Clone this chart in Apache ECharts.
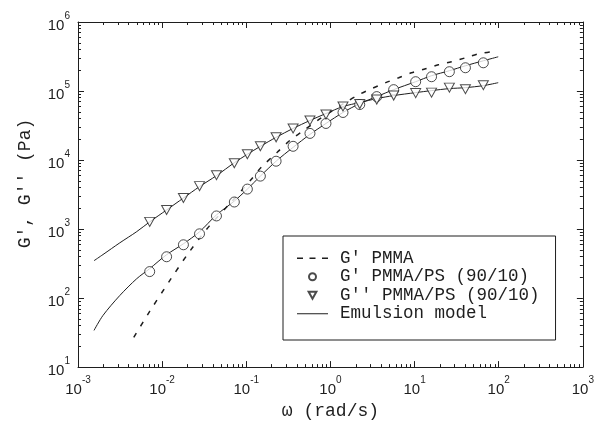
<!DOCTYPE html>
<html><head><meta charset="utf-8">
<script src="https://cdn.jsdelivr.net/npm/echarts@6/dist/echarts.min.js"></script>
<style>html,body{margin:0;padding:0;background:#fff}#c{width:597px;height:425px}</style>
</head><body><div id="c"></div>
<script>
// Measured frequencies (rad/s) for the blend
const omega = [0.00711, 0.0113, 0.0179, 0.0278, 0.0442, 0.0721, 0.103, 0.147, 0.226, 0.360, 0.571, 0.885, 1.41, 2.23, 3.55, 5.64, 10.3, 15.9, 25.9, 40.2, 65.6];
// G' PMMA/PS (90/10), Pa
const gPrimeBlend = [242, 397, 592, 853, 1549, 2466, 3793, 5848, 9616, 15810, 24320, 33880, 48870, 63680, 82990, 104700, 136500, 161100, 190500, 217300, 256400];
// G'' PMMA/PS (90/10), Pa
const gDoublePrimeBlend = [1271, 1892, 2818, 4188, 6039, 8995, 12130, 15810, 21330, 28710, 37410, 45710, 59570, 64710, 75160, 85900, 93330, 94840, 111900, 106400, 121600];
// G' PMMA (dashed)
const pmmaOmega = [0.0046, 0.00711, 0.0123, 0.0211, 0.0365, 0.0664, 0.115, 0.151, 0.233, 0.341, 0.448, 0.731, 1.57, 2.30, 3.10, 4.54, 6.47, 9.20, 13.5, 19.2, 27.4, 40.2, 57.1, 79.3];
const pmmaG = [27, 64, 179, 470, 1112, 2466, 5284, 7870, 12940, 19950, 25180, 38730, 70310, 91830, 108400, 132100, 156000, 184100, 210400, 239900, 265500, 302700, 345900, 369800];
// Emulsion model
const modelOmega = [0.00155, 0.00198, 0.00314, 0.00499, 0.00711, 0.0113, 0.0179, 0.0278, 0.0442, 0.0721, 0.103, 0.147, 0.226, 0.360, 0.571, 0.885, 1.41, 2.23, 3.55, 5.64, 10.3, 15.9, 25.9, 40.2, 65.6, 98.6];
const modelGp = [34, 56, 109, 191, 267, 425, 612, 912, 1603, 2547, 3793, 5848, 9616, 15280, 23550, 33880, 48870, 65770, 82990, 104700, 136500, 166700, 196800, 232300, 274200, 313300];
const modelGpp = [348, 427, 632, 918, 1271, 1892, 2818, 4121, 5943, 9141, 12130, 15810, 21330, 28710, 37410, 47210, 59570, 68080, 77620, 85900, 94840, 101400, 108400, 111900, 119700, 132100];
// Tick labels (powers of ten) and minor tick multipliers
const xTickExponents = ['-3', '-2', '-1', '0', '1', '2', '3'];
const yTickExponents = ['1', '2', '3', '4', '5', '6'];
const minorMultipliers = [2, 3, 4, 5, 6, 7, 8, 9];

const pair = (xs, ys) => xs.map((x, i) => [x, ys[i]]);
const ink = '#1e1e1e';
const xMajor = xTickExponents.map(e => Math.pow(10, Number(e)));
const yMajor = yTickExponents.map(e => Math.pow(10, Number(e)));
const minorsOf = majors => {
  const out = [];
  for (let i = 0; i < majors.length - 1; i++) minorMultipliers.forEach(m => out.push(m * majors[i]));
  return out;
};
const xMinor = minorsOf(xMajor);
const yMinor = minorsOf(yMajor);

const rich = {
  b: { fontFamily: 'Liberation Sans', fontSize: 15, color: ink, lineHeight: 22, verticalAlign: 'bottom' },
  e: { fontFamily: 'Liberation Sans', fontSize: 10, color: ink, lineHeight: 12, verticalAlign: 'top' }
};
const xFmt = v => '{b|10}{e|' + xTickExponents[Math.round(Math.log10(v)) + 3] + '}';
const yFmt = v => '{b|10}{e|' + yTickExponents[Math.round(Math.log10(v)) - 1] + '}';

function axis(isX, position, ticks, len, main, lineShown) {
  const a = {
    type: 'log', logBase: 10,
    min: isX ? xMajor[0] : yMajor[0],
    max: isX ? xMajor[xMajor.length - 1] : yMajor[yMajor.length - 1],
    position: position,
    axisLine: { show: lineShown, lineStyle: { color: ink, width: 1 } },
    axisTick: { show: true, inside: true, length: len, customValues: ticks, lineStyle: { color: ink, width: 1 } },
    splitLine: { show: false },
    axisLabel: { show: false }
  };
  if (main) {
    a.axisLabel = { show: true, formatter: isX ? xFmt : yFmt, rich: rich, margin: 8, customValues: ticks };
    a.nameLocation = 'middle';
    if (isX) {
      a.name = 'ω (rad/s)';
      a.nameGap = 28;
      a.nameTextStyle = { fontFamily: 'Liberation Mono', fontSize: 18, color: ink };
    } else {
      a.name = "G', G'' (Pa)";
      a.nameGap = 44;
      a.nameRotate = 90;
      a.nameTextStyle = { fontFamily: 'Liberation Mono', fontSize: 18, color: ink, padding: [0, 0, 0, 22] };
    }
  }
  return a;
}

const chart = echarts.init(document.getElementById('c'), null, { renderer: 'canvas' });
chart.setOption({
  backgroundColor: '#fff',
  animation: false,
  grid: { left: 78, right: 12, top: 22, bottom: 56 },
  xAxis: [
    axis(true, 'bottom', xMajor, 6, true, true),
    axis(true, 'top', xMajor, 6, false, true),
    axis(true, 'bottom', xMinor, 3, false, false),
    axis(true, 'top', xMinor, 3, false, false)
  ],
  yAxis: [
    axis(false, 'left', yMajor, 6, true, true),
    axis(false, 'right', yMajor, 6, false, true),
    axis(false, 'left', yMinor, 3, false, false),
    axis(false, 'right', yMinor, 3, false, false)
  ],
  legend: {
    orient: 'vertical', left: 283, top: 236,
    padding: [13, 16, 17, 14], itemGap: 0,
    itemWidth: 31, itemHeight: 7, symbolRotate: 0,
    borderColor: ink, borderWidth: 1,
    textStyle: { fontFamily: 'Liberation Mono', fontSize: 17.5, color: ink, lineHeight: 18.5, padding: [0, 0, 0, 7] },
    data: [
      { name: "G' PMMA", icon: 'path://M0,0h6v1.4h-6z M12.5,0h6v1.4h-6z M25,0h6v1.4h-6z' },
      { name: "G' PMMA/PS (90/10)", icon: 'circle' },
      { name: "G'' PMMA/PS (90/10)", icon: 'path://M0,0L10,0L5,9Z' },
      { name: 'Emulsion model', icon: 'path://M0,0h31v1h-31z' }
    ]
  },
  series: [{
    name: "G' PMMA", type: 'line', data: pair(pmmaOmega, pmmaG),
    symbol: 'none', smooth: 0.3, lineStyle: { color: ink, width: 1.5, type: [5, 8] }, itemStyle: { color: ink }, z: 2
  }, {
    name: 'Emulsion model', type: 'line', data: pair(modelOmega, modelGp),
    symbol: 'none', smooth: 0.3, lineStyle: { color: ink, width: 1 }, itemStyle: { color: ink }, z: 2
  }, {
    name: 'Emulsion model', type: 'line', data: pair(modelOmega, modelGpp),
    symbol: 'none', smooth: 0.3, lineStyle: { color: ink, width: 1 }, itemStyle: { color: ink }, z: 2
  }, {
    name: "G' PMMA/PS (90/10)", type: 'scatter', data: pair(omega, gPrimeBlend),
    symbol: 'circle', symbolSize: 10,
    itemStyle: { color: '#fff', borderColor: ink, borderWidth: 1 }, z: 3
  }, {
    name: "G'' PMMA/PS (90/10)", type: 'scatter', data: pair(omega, gDoublePrimeBlend),
    symbol: 'triangle', symbolSize: [10, 9], symbolRotate: 180,
    itemStyle: { color: '#fff', borderColor: ink, borderWidth: 1 }, z: 3
  }]
});
</script>
</body></html>
